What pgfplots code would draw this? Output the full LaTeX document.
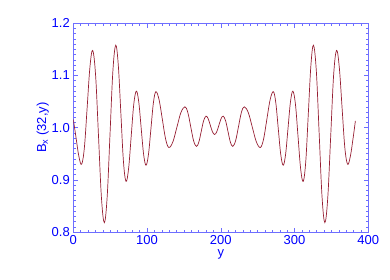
\documentclass[border=0pt]{standalone}
\usepackage{fontspec}
\setmainfont{Liberation Sans}
\usepackage{pgfplots}
\pgfplotsset{compat=1.18}
\definecolor{idlblue}{RGB}{0,0,255}
\definecolor{framec}{RGB}{110,110,255}
\definecolor{curvec}{RGB}{150,30,50}
\begin{document}
\begin{tikzpicture}
\useasboundingbox (-73.3pt,-47pt) rectangle (316.7pt,232pt);
\begin{axis}[
  scale only axis,
  width=295pt, height=208.7pt,
  xmin=0, xmax=400, ymin=0.8, ymax=1.2,
  xtick={0,100,...,400},
  ytick={0.8,0.9,...,1.2},
  minor x tick num=9,
  minor y tick num=9,
  tick align=inside,
  major tick length=4.5pt,
  minor tick length=2.3pt,
  axis line style={framec, line width=0.6pt},
  every tick/.style={framec, line width=0.5pt},
  tick label style={font=\fontsize{13}{15}\selectfont, text=idlblue},
  label style={font=\fontsize{13}{15}\selectfont, text=idlblue},
  /pgf/number format/assume math mode=true,
  yticklabel style={/pgf/number format/fixed, /pgf/number format/fixed zerofill, /pgf/number format/precision=1},
  xlabel={y},
  ylabel={B$_{\mathrm{x}}$ (32,y)},
  xlabel style={yshift=2pt},
  ylabel style={yshift=-4pt},
]
\addplot[curvec, line width=0.7pt, smooth, tension=0.6] coordinates {
(0,1.016) (3.8,0.980) (7.55,0.945) (11.3,0.930)
(15.05,0.962) (18.8,1.039) (22.55,1.116) (26.3,1.148)
(30.25,1.100) (34.2,0.983) (38.15,0.866) (42.1,0.818)
(45.95,0.868) (49.8,0.988) (53.65,1.108) (57.5,1.158)
(61.0,1.120) (64.5,1.0275) (68.0,0.935) (71.5,0.897)
(75.0,0.922) (78.5,0.9835) (82.0,1.045) (85.5,1.070)
(88.78,1.049) (92.05,0.999) (95.33,0.949) (98.6,0.928)
(101.95,0.949) (105.3,0.9985) (108.65,1.048) (112.0,1.069)
(116.4,1.053) (120.8,1.0155) (125.2,0.978) (129.6,0.962)
(135.05,0.973) (140.5,1.001) (145.95,1.029) (151.4,1.040)
(155.3,1.029) (159.2,1.002) (163.1,0.975) (167.0,0.964)
(170.25,0.9725) (173.5,0.993) (176.75,1.0135) (180.0,1.022)
(182.9,1.017) (185.8,1.0045) (188.7,0.992) (191.6,0.987)
(194.5,0.992) (197.4,1.0045) (200.3,1.017) (203.2,1.022)
(206.45,1.0135) (209.7,0.993) (212.95,0.9725) (216.2,0.964)
(220.1,0.975) (224.0,1.002) (227.9,1.029) (231.8,1.040)
(237.25,1.029) (242.7,1.001) (248.15,0.973) (253.6,0.962)
(258.0,0.978) (262.4,1.0155) (266.8,1.053) (271.2,1.069)
(274.55,1.048) (277.9,0.9985) (281.25,0.949) (284.6,0.928)
(287.87,0.949) (291.15,0.999) (294.42,1.049) (297.7,1.070)
(301.2,1.045) (304.7,0.9835) (308.2,0.922) (311.7,0.897)
(315.2,0.935) (318.7,1.0275) (322.2,1.120) (325.7,1.158)
(329.55,1.108) (333.4,0.988) (337.25,0.868) (341.1,0.818)
(345.05,0.866) (349.0,0.983) (352.95,1.100) (356.9,1.148)
(360.65,1.116) (364.4,1.039) (368.15,0.962) (371.9,0.930)
(375.65,0.945) (379.4,0.980) (382.5,1.013)
};
\end{axis}
\end{tikzpicture}
\end{document}
